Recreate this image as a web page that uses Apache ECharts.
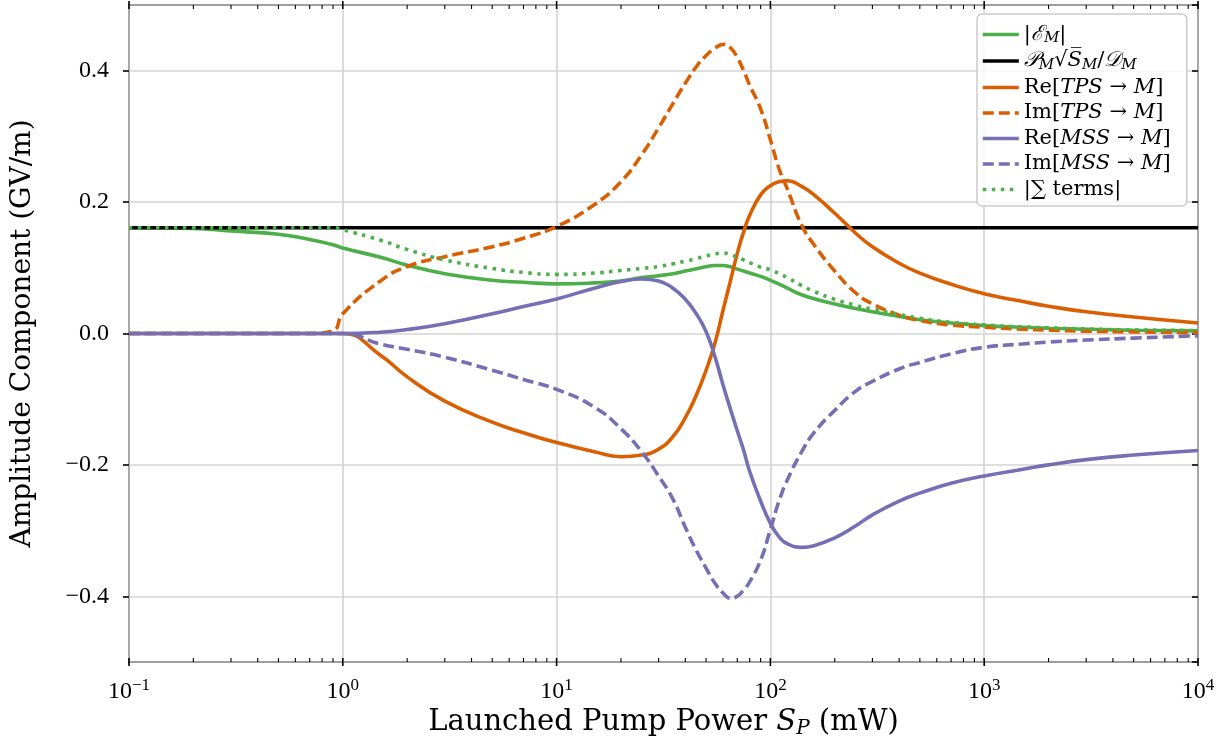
<!DOCTYPE html>
<html><head><meta charset="utf-8">
<script src="https://cdn.jsdelivr.net/npm/echarts@6/dist/echarts.min.js"></script>
<style>html,body{margin:0;padding:0;background:#fff}#c{width:1229px;height:744px}</style>
</head><body><div id="c"></div>
<script>
// ---- data ----
const X = [0.1,0.2,0.3,0.5,0.7,0.9,1,1.5,2,3,5,7,10,15,20,25,30,35,40,45,50,55,60,65,70,75,80,90,100,110,120,140,160,200,250,300,400,500,700,1000,1500,2000,3000,5000,10000];
const EM = [0.161,0.160,0.156,0.151,0.143,0.135,0.130,0.116,0.104,0.091,0.081,0.078,0.0755,0.077,0.080,0.085,0.088,0.091,0.095,0.0985,0.1015,0.1035,0.1035,0.1015,0.098,0.095,0.092,0.087,0.081,0.075,0.069,0.059,0.053,0.045,0.038,0.033,0.026,0.021,0.016,0.012,0.0095,0.008,0.0065,0.005,0.004];
const PM_X = [0.1, 10000];
const PM_Y = [0.161, 0.161];
const RE_TPS = [0,0,0,0,0,0,0,-0.033,-0.066,-0.103,-0.135,-0.151,-0.166,-0.180,-0.1875,-0.185,-0.176,-0.157,-0.128,-0.094,-0.056,-0.015,0.035,0.080,0.122,0.155,0.180,0.211,0.225,0.231,0.2325,0.224,0.211,0.183,0.153,0.132,0.107,0.092,0.075,0.0605,0.049,0.0415,0.033,0.025,0.016];
const IM_TPS = [0,0,0,0,0,0.004,0.03,0.08,0.102,0.117,0.132,0.145,0.163,0.196,0.231,0.272,0.313,0.350,0.381,0.406,0.423,0.434,0.44,0.435,0.42,0.40,0.378,0.342,0.295,0.25,0.22,0.165,0.135,0.095,0.062,0.045,0.028,0.02,0.013,0.0096,0.0065,0.005,0.0035,0.0025,0.0012];
const RE_MSS = [0,0,0,0,0,0,0,0.002,0.006,0.015,0.030,0.041,0.0525,0.069,0.079,0.083,0.080,0.069,0.052,0.030,0.003,-0.035,-0.078,-0.115,-0.148,-0.178,-0.21,-0.255,-0.289,-0.310,-0.320,-0.3255,-0.323,-0.311,-0.293,-0.276,-0.255,-0.243,-0.228,-0.217,-0.207,-0.200,-0.192,-0.185,-0.178];
const IM_MSS = [0,0,0,0,0,0,0,-0.016,-0.024,-0.036,-0.056,-0.070,-0.085,-0.112,-0.145,-0.180,-0.217,-0.252,-0.295,-0.330,-0.357,-0.380,-0.395,-0.403,-0.400,-0.39,-0.378,-0.345,-0.298,-0.254,-0.223,-0.180,-0.151,-0.117,-0.088,-0.073,-0.054,-0.044,-0.031,-0.021,-0.016,-0.013,-0.010,-0.007,-0.0035];
const SUM = [0.161,0.161,0.161,0.161,0.161,0.161,0.158,0.142,0.128,0.112,0.099,0.093,0.090,0.092,0.096,0.099,0.102,0.106,0.110,0.114,0.118,0.121,0.1225,0.120,0.116,0.112,0.108,0.101,0.097,0.091,0.085,0.073,0.064,0.052,0.043,0.037,0.029,0.023,0.017,0.013,0.010,0.0085,0.007,0.0055,0.0045];
const X_TICKS = [0.1, 1, 10, 100, 1000, 10000];
const X_MIN = 0.1, X_MAX = 10000, Y_MIN = -0.5, Y_MAX = 0.5;
const NAMES = ['EM','PM','RE_TPS','IM_TPS','RE_MSS','IM_MSS','SUM'];
const LEGEND_TEXT = {
  EM: '{n||}{c|ℰ}{s|M}{n||}',
  PM: '{c|𝒫}{s|M}{n|√}{i|S\u0305}{s|M}{n|/}{c|𝒟}{s|M}',
  RE_TPS: '{n|Re[}{i|TPS}{n| → }{i|M}{n|]}',
  IM_TPS: '{n|Im[}{i|TPS}{n| → }{i|M}{n|]}',
  RE_MSS: '{n|Re[}{i|MSS}{n| → }{i|M}{n|]}',
  IM_MSS: '{n|Im[}{i|MSS}{n| → }{i|M}{n|]}',
  SUM: '{n||∑ terms|}'
};
// ---- styles ----
const GREEN = '#4daf4a', ORANGE = '#d95f02', PURPLE = '#7570b3';
const SERIF = 'DejaVu Serif';
const TICKF = 'Liberation Serif';
const DASH = [11, 5], DOT = [3.5, 5.5];
const LW = 3.6;

const minorTicks = [];
for (let d = -1; d < 4; d++) for (let m = 2; m <= 9; m++) minorTicks.push([m * Math.pow(10, d), 0, 0]);
const tickData = minorTicks.concat(X_TICKS.map(v => [v, 0, 1]));

function pairs(xs, ys) { return xs.map((x, i) => [x, ys[i]]); }
function line(name, data, color, type) {
  return { name, type: 'line', data, showSymbol: false, symbol: 'none', smooth: 0.5,
    lineStyle: { color, width: LW, type, cap: 'butt' }, itemStyle: { color },
    emphasis: { disabled: true }, animation: false };
}

const chart = echarts.init(document.getElementById('c'), null, { renderer: 'canvas' });
chart.setOption({
  animation: false,
  backgroundColor: '#fff',
  grid: { left: 129, right: 31, top: 5, bottom: 82, show: true, borderColor: '#000', borderWidth: 2, backgroundColor: 'transparent' },
  xAxis: [{
    type: 'log', logBase: 10, min: X_MIN, max: X_MAX,
    axisLine: { show: false }, axisTick: { show: false },
    splitLine: { show: true, lineStyle: { color: '#d4d4d4', width: 1.6 } },
    axisLabel: {
      margin: 15,
      formatter: v => { const e = Math.round(Math.log10(v)); return '{b|10}{s|' + (e < 0 ? '−' : '') + Math.abs(e) + '}'; },
      rich: { b: { fontFamily: TICKF, fontSize: 24, color: '#000' }, s: { fontFamily: TICKF, fontSize: 17, color: '#000', padding: [0, 0, 12, 0] } }
    },
    name: '{n|Launched Pump Power }{i|S}{s|P}{n| (mW)}', nameLocation: 'middle', nameGap: 37,
    nameTextStyle: { rich: {
      n: { fontFamily: SERIF, fontSize: 29, color: '#000' },
      i: { fontFamily: SERIF, fontSize: 29, fontStyle: 'italic', color: '#000' },
      s: { fontFamily: SERIF, fontSize: 20, fontStyle: 'italic', color: '#000', padding: [11, 0, 0, 0] } } }
  }],
  yAxis: [{
    type: 'value', min: Y_MIN, max: Y_MAX, splitNumber: 5,
    axisLine: { show: false },
    axisTick: { show: true, inside: false, length: 6, lineStyle: { color: '#000', width: 1.6 } },
    splitLine: { show: true, lineStyle: { color: '#d4d4d4', width: 1.6 } },
    axisLabel: { margin: 20, showMinLabel: false, showMaxLabel: false, fontFamily: TICKF, fontSize: 24, color: '#000',
      formatter: v => (Math.abs(v) > 0.49 ? '' : (v < -1e-9 ? '−' : '') + Math.abs(v).toFixed(1)) },
    name: 'Amplitude Component (GV/m)', nameLocation: 'middle', nameGap: 92, nameRotate: 90,
    nameTextStyle: { fontFamily: SERIF, fontSize: 28, color: '#000' }
  }, {
    type: 'value', min: Y_MIN, max: Y_MAX, splitNumber: 5, position: 'right',
    axisLine: { show: false }, axisLabel: { show: false }, splitLine: { show: false },
    axisTick: { show: true, inside: true, length: 6, lineStyle: { color: '#000', width: 1.6 } }
  }],
  legend: {
    data: NAMES, orient: 'vertical', left: 977, top: 14,
    itemWidth: 36, itemHeight: 12, itemGap: 4.5,
    padding: [10, 16, 6, 4],
    backgroundColor: 'rgba(255,255,255,0.8)', borderColor: '#cccccc', borderWidth: 1.5, borderRadius: 5,
    itemStyle: { opacity: 0 },
    lineStyle: { width: LW },
    formatter: name => LEGEND_TEXT[name],
    textStyle: { color: '#000', rich: {
      n: { fontFamily: SERIF, fontSize: 21, color: '#000', lineHeight: 22 },
      i: { fontFamily: SERIF, fontSize: 21, fontStyle: 'italic', color: '#000', lineHeight: 22 },
      c: { fontFamily: SERIF, fontSize: 21, fontStyle: 'italic', color: '#000', lineHeight: 22 },
      s: { fontFamily: SERIF, fontSize: 15, fontStyle: 'italic', color: '#000', padding: [8, 0, 0, 0] } } }
  },
  series: [
    line('EM', pairs(X, EM), GREEN, 'solid'),
    line('PM', pairs(PM_X, PM_Y), '#000', 'solid'),
    line('RE_TPS', pairs(X, RE_TPS), ORANGE, 'solid'),
    line('IM_TPS', pairs(X, IM_TPS), ORANGE, DASH),
    line('RE_MSS', pairs(X, RE_MSS), PURPLE, 'solid'),
    line('IM_MSS', pairs(X, IM_MSS), PURPLE, DASH),
    line('SUM', pairs(X, SUM), GREEN, DOT),
    {
      type: 'custom', silent: true, clip: false, z: 20, animation: false,
      data: tickData, encode: { x: 0, y: 1 },
      renderItem: (params, api) => {
        const v = api.value(0), major = api.value(2) === 1;
        const b = api.coord([v, Y_MIN]), t = api.coord([v, Y_MAX]);
        const st = { stroke: '#000', lineWidth: major ? 1.6 : 1.1 };
        const mk = (x1, y1, x2, y2) => ({ type: 'line', shape: { x1, y1, x2, y2 }, style: st });
        return { type: 'group', children: major
          ? [mk(b[0], b[1] - 4, b[0], b[1] + 4), mk(t[0], t[1] - 4, t[0], t[1] + 4)]
          : [mk(b[0], b[1], b[0], b[1] - 4), mk(t[0], t[1], t[0], t[1] + 4)] };
      }
    }
  ]
});
</script></body></html>
